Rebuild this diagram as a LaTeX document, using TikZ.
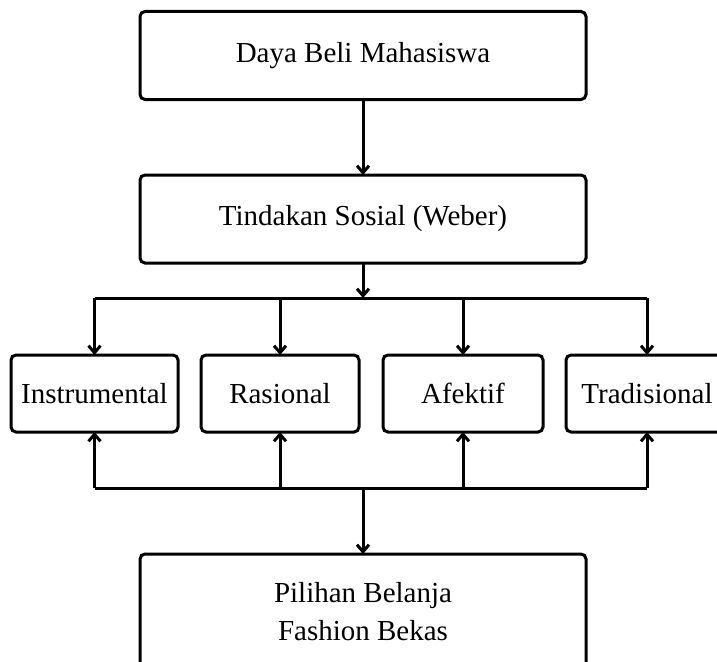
\documentclass[tikz,border=0pt]{standalone}
\usepackage{fontspec}
\setmainfont{Liberation Serif}
\usepackage{tikz}
\usetikzlibrary{arrows.meta}
\usetikzlibrary{positioning}

\begin{document}
\begin{tikzpicture}[x=1pt,y=1pt,line width=3pt,>={Straight Barb[length=7pt,width=12pt]},
  node distance=20pt,
  box/.style={draw,rounded corners=5pt,outer sep=0pt,inner sep=0pt,align=center,
    font=\fontsize{29}{38}\selectfont},
  big box/.style={box,minimum width=446pt,minimum height=88pt},
  small box/.style={box,minimum height=77pt}]

  \useasboundingbox (0,0) rectangle (717,-661);
  \clip (0,0) rectangle (717,-661);

  \node[big box] (daya) at (363,-55.5) {Daya Beli Mahasiswa};
  \node[big box] (tindakan) [below=75.5pt of daya] {Tindakan Sosial (Weber)};
  \node[small box,minimum width=167pt] (instr) at (94.5,-393.5) {Instrumental};
  \node[small box,minimum width=158pt] (rasional) [right=23pt of instr] {Rasional};
  \node[small box,minimum width=160pt] (afektif) [right=24pt of rasional] {Afektif};
  \node[small box,minimum width=162pt] (trad) [right=23pt of afektif] {Tradisional};
  \coordinate (jtop) at ([yshift=-35pt]tindakan.south);
  \coordinate (jbot) at (363,-488);
  \node[big box,minimum height=116pt] (pilihan) [below=66pt of jbot] {Pilihan Belanja\\ Fashion Bekas};

  \draw[->] (daya) -- (tindakan);
  \draw[->] (tindakan) -- (jtop);
  \draw (instr.north |- jtop) -- (trad.north |- jtop);
  \draw (instr.south |- jbot) -- (trad.south |- jbot);
  \foreach \n in {instr,rasional,afektif,trad} {
    \draw[->] (\n.north |- jtop) -- (\n.north);
    \draw[->] (\n.south |- jbot) -- (\n.south);
  }
  \draw[->] (jbot) -- (pilihan);
\end{tikzpicture}
\end{document}
